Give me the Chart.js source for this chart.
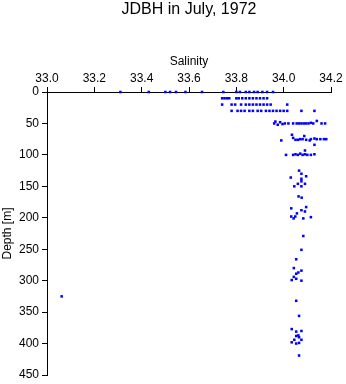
<!DOCTYPE html>
<html>
<head>
<meta charset="utf-8">
<script src="https://cdn.jsdelivr.net/npm/chart.js@4"></script>
<style>
  body { margin: 0; background: #fff; }
</style>
</head>
<body>
<canvas id="chart" width="346" height="384"></canvas>
<script>
// values
const chartTitle = 'JDBH in July, 1972';
const salinityTicks = [33, 33.2, 33.4, 33.6, 33.8, 34, 34.2];
const depthTicks = [0, 50, 100, 150, 200, 250, 300, 350, 400, 450];

// bottle levels near the surface (one depth each)
const salinity0 = [33.31, 33.43, 33.50, 33.52, 33.545, 33.585, 33.655, 33.745, 33.80, 33.815, 33.84, 33.855, 33.875, 33.89, 33.91, 33.93, 33.955];
const salinity10 = [33.74, 33.75, 33.76, 33.77, 33.80, 33.81, 33.825, 33.84, 33.855, 33.87, 33.885, 33.90, 33.915, 33.93];
const salinity20 = [33.74, 33.78, 33.795, 33.82, 33.84, 33.855, 33.87, 33.885, 33.90, 33.915, 33.93, 33.945, 34.015];
const salinity30 = [33.78, 33.805, 33.82, 33.835, 33.855, 33.87, 33.89, 33.905, 33.925, 33.94, 33.955, 33.97, 33.985, 34.0, 34.015, 34.075, 34.13];

// around 50 m
const salinity50 = [33.96, 33.965, 33.975, 33.985, 33.995, 34.005, 34.02, 34.04, 34.055, 34.065, 34.075, 34.085, 34.095, 34.105, 34.115, 34.125, 34.14, 34.16, 34.175];
const depth50 = [50, 47, 52, 48, 51, 50, 50, 50, 50, 50, 50, 50, 50, 50, 49, 50, 46, 50, 50];

// around 75 m
const salinity75 = [33.99, 34.035, 34.04, 34.05, 34.06, 34.07, 34.08, 34.087, 34.095, 34.11, 34.115, 34.13, 34.14, 34.155, 34.17, 34.18, 34.13];
const depth75 = [77, 68, 73, 76, 76, 75, 75, 70, 76, 77, 75, 74, 75, 75, 75, 75, 84];

// around 100 m
const salinity100 = [34.01, 34.04, 34.05, 34.06, 34.07, 34.08, 34.09, 34.1, 34.115, 34.13, 34.09];
const depth100 = [100, 100, 99, 100, 98, 100, 99, 100, 100, 99, 93];

// deeper samples
const salinityDeep = [34.065, 34.075, 34.095, 34.03, 34.075, 34.075, 34.06, 34.09, 34.045, 34.075,
  34.063, 34.076, 34.032, 34.075, 34.095, 34.09, 34.056, 34.032, 34.049, 34.042, 34.083, 34.115,
  34.083, 34.075, 34.053, 34.043, 34.075, 34.062, 34.053, 34.043, 34.034, 34.053, 34.075,
  33.062, 34.053, 34.065, 34.034, 34.053, 34.075, 34.062, 34.053, 34.065, 34.045, 34.075, 34.034, 34.053, 34.065, 34.065];
const depthDeep = [125, 130, 134, 136, 138, 142, 146, 146, 150, 150,
  166, 168, 185, 188, 183, 190, 193, 198, 198, 201, 201, 199,
  229, 251, 266, 280, 284, 287, 289, 294, 299, 297, 300,
  325, 332, 356, 377, 381, 380, 387, 388, 390, 394, 394, 398, 400, 399, 419];

const points = [];
salinity0.forEach(s => points.push({ x: s, y: 0 }));
salinity10.forEach(s => points.push({ x: s, y: 10 }));
salinity20.forEach(s => points.push({ x: s, y: 20 }));
salinity30.forEach(s => points.push({ x: s, y: 30 }));
salinity50.forEach((s, i) => points.push({ x: s, y: depth50[i] }));
salinity75.forEach((s, i) => points.push({ x: s, y: depth75[i] }));
salinity100.forEach((s, i) => points.push({ x: s, y: depth100[i] }));
salinityDeep.forEach((s, i) => points.push({ x: s, y: depthDeep[i] }));

const font = { family: '"Liberation Sans", Arial, sans-serif', size: 12 };

new Chart(document.getElementById('chart'), {
  type: 'scatter',
  data: {
    datasets: [{
      data: points,
      clip: false,
      pointStyle: 'rect',
      pointRadius: 1.8,
      pointBorderWidth: 0,
      backgroundColor: '#0000ff',
      borderColor: '#0000ff'
    }]
  },
  options: {
    responsive: false,
    animation: false,
    layout: { padding: { top: 0, right: 15, bottom: 9, left: 0 } },
    plugins: {
      legend: { display: false },
      tooltip: { enabled: false },
      title: {
        display: true,
        text: chartTitle,
        fullSize: false,
        color: '#000',
        font: { family: font.family, size: 16, weight: 'normal' },
        padding: { top: 0, bottom: 31 }
      }
    },
    scales: {
      x: {
        type: 'linear',
        position: 'top',
        min: 33,
        max: 34.2,
        afterBuildTicks: scale => { scale.ticks = salinityTicks.map(v => ({ value: v })); },
        grid: { drawOnChartArea: false, drawTicks: true, tickLength: 5, color: '#000' },
        border: { display: true, color: '#000', width: 1 },
        ticks: { color: '#000', font: font, padding: 1, maxRotation: 0 },
        title: { display: true, text: 'Salinity', color: '#000', font: font, padding: { top: 4, bottom: 2 } }
      },
      y: {
        type: 'linear',
        reverse: true,
        min: 0,
        max: 450,
        afterBuildTicks: scale => { scale.ticks = depthTicks.map(v => ({ value: v })); },
        afterFit: scale => {
          scale.width = 47;
          scale.paddingTop = 0;
          scale.paddingBottom = 0;
        },
        grid: { drawOnChartArea: false, drawTicks: true, tickLength: 5, color: '#000' },
        border: { display: true, color: '#000', width: 1 },
        ticks: { color: '#000', font: font, padding: 3 },
        title: { display: true, text: 'Depth [m]', color: '#000', font: font, padding: { top: 0, bottom: 0 } }
      }
    }
  }
});
</script>
</body>
</html>
